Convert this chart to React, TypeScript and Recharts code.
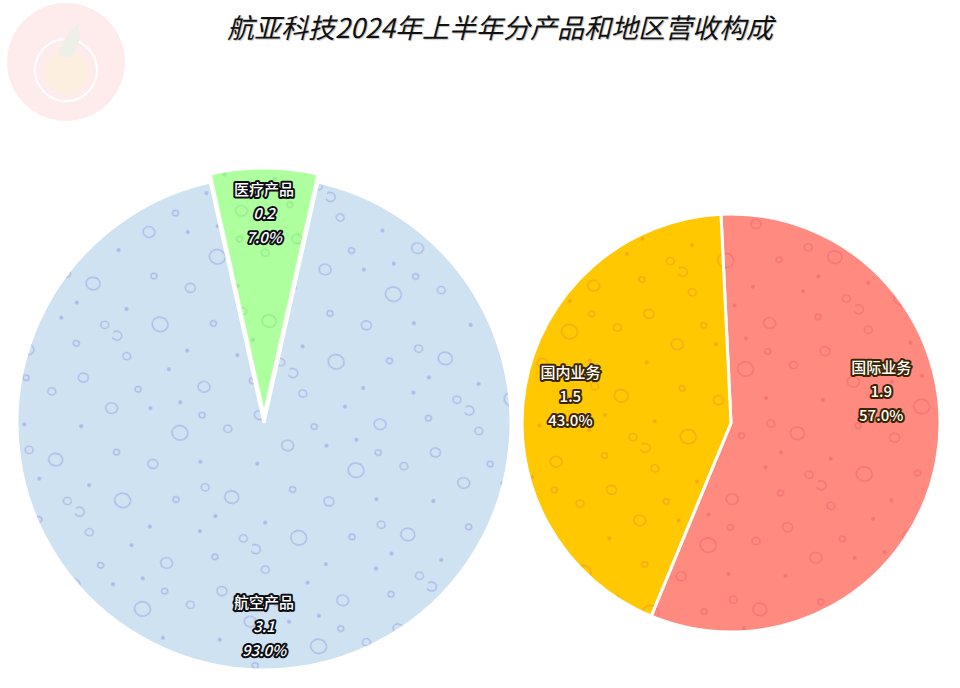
import { PieChart, Pie, Cell } from "recharts";

// 分产品
const productNames = ["航空产品", "医疗产品"];
const productRevenue = [3.1, 0.2]; // 亿元
const productShare = [93, 7]; // %

// 分地区
const regionNames = ["国际业务", "国内业务"];
const regionRevenue = [1.9, 1.5];
const regionShare = [57, 43];

const productColors = ["#cfe2f1", "#aeff9e"];
const productBubble = ["#aeb9e8", "#94ec8e"];
const regionColors = ["#ff8a80", "#ffc800"];
const regionBubble = ["#f47474", "#f4aa18"];

// decal bubbles for the texture tile: x, y, r, filled
const bubbles: [number, number, number, number][] = [
  [14, 16, 6, 0], [52, 8, 2, 1], [86, 26, 8, 0], [132, 12, 4, 0],
  [168, 40, 2, 1], [28, 58, 3, 0], [66, 62, 5, 0], [112, 50, 2, 1],
  [150, 78, 7, 0], [8, 96, 2, 1], [44, 104, 8, 0], [96, 92, 3, 0],
  [126, 118, 2, 1], [18, 142, 4, 0], [62, 146, 2, 1], [100, 156, 6, 0],
  [146, 140, 3, 0], [80, 176, 2, 1], [170, 116, 4, 0], [36, 172, 3, 0],
  [122, 74, 4, 0], [160, 172, 5, 0], [76, 124, 2, 1], [138, 100, 2, 1],
  [104, 4, 3, 0], [4, 124, 5, 0],
];

const RAD = Math.PI / 180;

type LabelOpts = {
  names: string[];
  revenue: number[];
  radius: number[];
  angleShift: number[];
  border: string;
  italic: boolean;
  only?: number;
};

function makeLabel(o: LabelOpts) {
  return (props: any) => {
    const { cx, cy, midAngle, outerRadius, index, percent } = props;
    if (o.only !== undefined && index !== o.only) return null;
    const a = (midAngle + o.angleShift[index]) * RAD;
    const r = outerRadius * o.radius[index];
    const x = cx + r * Math.cos(a);
    const y = cy - r * Math.sin(a);
    const lines = [
      o.names[index],
      o.revenue[index].toFixed(1),
      `${(percent * 100).toFixed(1)}%`,
    ];
    return (
      <g key={`lbl-${index}`}>
        {lines.map((t, i) => (
          <text
            key={i}
            x={x}
            y={y + (i - 1) * 24}
            textAnchor="middle"
            dominantBaseline="central"
            fontSize={15}
            fontWeight={500}
            fontFamily="'Noto Sans CJK SC', 'Noto Sans', sans-serif"
            fontStyle={o.italic && i > 0 ? "italic" : "normal"}
            fill="#fff"
            stroke={o.border}
            strokeWidth={4}
            strokeLinejoin="round"
            paintOrder="stroke"
          >
            {t}
          </text>
        ))}
      </g>
    );
  };
}

function Pattern({ id, base, bubble }: { id: string; base: string; bubble: string }) {
  return (
    <pattern id={id} width={180} height={180} patternUnits="userSpaceOnUse" patternTransform="rotate(12)">
      <rect width={180} height={180} fill={base} />
      {bubbles.map(([x, y, r, f], i) =>
        f ? (
          <circle key={i} cx={x} cy={y} r={r} fill={bubble} />
        ) : (
          <ellipse key={i} cx={x} cy={y} rx={r} ry={r * 0.9} fill="none" stroke={bubble} strokeWidth={1.4} />
        )
      )}
    </pattern>
  );
}

export default function App() {
  const productData = productNames.map((name, i) => ({ name, share: productShare[i] }));
  const regionData = regionNames.map((name, i) => ({ name, share: regionShare[i] }));

  // 医疗产品 centred on top, 国际业务 starting just left of top (clockwise)
  const productStart = 90 - (productShare[1] / 100) * 180;
  const regionStart = 92.75;

  return (
    <div style={{ position: "absolute", left: 0, top: 0, width: 960, height: 688, background: "#fff", overflow: "hidden" }}>
      <svg width={0} height={0} style={{ position: "absolute" }}>
        <defs>
          <Pattern id="pat-p0" base={productColors[0]} bubble={productBubble[0]} />
          <Pattern id="pat-p1" base={productColors[1]} bubble={productBubble[1]} />
          <Pattern id="pat-r0" base={regionColors[0]} bubble={regionBubble[0]} />
          <Pattern id="pat-r1" base={regionColors[1]} bubble={regionBubble[1]} />
        </defs>
      </svg>

      {/* watermark */}
      <svg width={140} height={140} style={{ position: "absolute", left: 0, top: 0 }}>
        <circle cx={66} cy={62} r={59} fill="#fde6e6" opacity={0.75} />
        <circle cx={66} cy={72} r={22} fill="#fdf0dc" opacity={0.8} />
        <circle cx={66} cy={70} r={31} fill="none" stroke="#fff" strokeWidth={2} />
        <path d="M58 56 Q62 36 78 24 Q84 44 70 58 Z" fill="#eef0e6" />
      </svg>

      <div
        style={{
          position: "absolute",
          top: 7,
          left: 0,
          width: 1000,
          textAlign: "center",
          fontFamily: "'Noto Sans CJK SC', sans-serif",
          fontStyle: "italic",
          fontSize: 27,
          color: "#111",
          textShadow: "1px 1px 1px rgba(0,0,0,0.25)",
        }}
      >
        航亚科技2024年上半年分产品和地区营收构成
      </div>

      <div style={{ position: "absolute", left: 0, top: 0 }}>
        <PieChart width={960} height={688} margin={{ top: 0, right: 0, bottom: 0, left: 0 }}>
          <Pie
            data={productData}
            dataKey="share"
            nameKey="name"
            cx={264}
            cy={423}
            outerRadius={247}
            startAngle={productStart}
            endAngle={productStart - 360}
            stroke="#fff"
            strokeWidth={3}
            labelLine={false}
            label={makeLabel({
              names: productNames,
              revenue: productRevenue,
              radius: [0.82, 0.82],
              angleShift: [0, 0],
              border: "#0d0d14",
              italic: true,
              only: 0,
            })}
            isAnimationActive={false}
          >
            <Cell fill="url(#pat-p0)" />
            <Cell fill="none" stroke="none" />
          </Pie>
          <Pie
            data={productData}
            dataKey="share"
            nameKey="name"
            cx={264}
            cy={415}
            outerRadius={247}
            startAngle={productStart}
            endAngle={productStart - 360}
            stroke="#fff"
            strokeWidth={3}
            labelLine={false}
            label={makeLabel({
              names: productNames,
              revenue: productRevenue,
              radius: [0.82, 0.82],
              angleShift: [0, 0],
              border: "#0d0d14",
              italic: true,
              only: 1,
            })}
            isAnimationActive={false}
          >
            <Cell fill="none" stroke="none" />
            <Cell fill="url(#pat-p1)" />
          </Pie>
          <Pie
            data={regionData}
            dataKey="share"
            nameKey="name"
            cx={731}
            cy={423}
            outerRadius={209}
            startAngle={regionStart}
            endAngle={regionStart - 360}
            stroke="#fff"
            strokeWidth={3}
            labelLine={false}
            label={makeLabel({
              names: regionNames,
              revenue: regionRevenue,
              radius: [0.735, 0.78],
              angleShift: [22, 0],
              border: "#3b2400",
              italic: false,
            })}
            isAnimationActive={false}
          >
            <Cell fill="url(#pat-r0)" />
            <Cell fill="url(#pat-r1)" />
          </Pie>
        </PieChart>
      </div>
    </div>
  );
}
